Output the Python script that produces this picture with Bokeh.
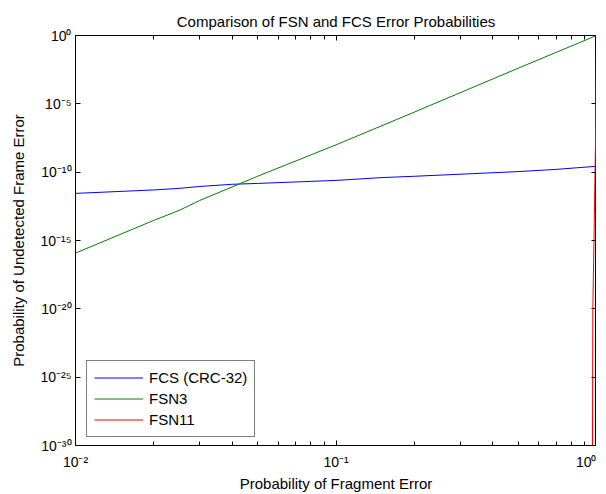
from bokeh.plotting import figure
from bokeh.models import Range1d, FixedTicker, LogAxis, CustomJSTickFormatter, Legend, LegendItem
from bokeh.embed import file_html
from bokeh.resources import INLINE

title_text = "Comparison of FSN and FCS Error Probabilities"
x_label = "Probability of Fragment Error"
y_label = "Probability of Undetected Frame Error"

x_major_ticks = [0.01, 0.1, 1.0]
x_minor_ticks = [0.02, 0.03, 0.04, 0.05, 0.06, 0.07, 0.08, 0.09,
                 0.2, 0.3, 0.4, 0.5, 0.6, 0.7, 0.8, 0.9]
y_major_ticks = [1e-30, 1e-25, 1e-20, 1e-15, 1e-10, 1e-5, 1e0]

series_names = ["FCS (CRC-32)", "FSN3", "FSN11"]

fcs_x = [0.01, 0.02, 0.025, 0.03, 0.04, 0.05, 0.1, 0.15, 0.2, 0.5, 0.7, 1.0]
fcs_y = [2.8e-12, 5.0e-12, 6.5e-12, 9.0e-12, 1.3e-11, 1.5e-11, 2.5e-11,
         4.0e-11, 5.0e-11, 1.1e-10, 1.6e-10, 2.7e-10]

fsn3_x = [0.01, 0.02, 0.025, 0.03, 0.05, 0.1, 0.15, 0.2, 0.5, 1.0]
fsn3_y = [1.2e-16, 3.0e-14, 1.6e-13, 8.5e-13, 5.0e-11, 1.0e-8, 2.5e-7,
          2.5e-6, 4.0e-3, 1.0]

fsn11_x = [0.96, 0.965, 0.968, 0.98, 0.991, 1.0]
fsn11_y = [1e-60, 1e-30, 1e-20, 1e-14, 1e-8, 1.0]

FONT = "Liberation Sans"

sup_code = """
const sup = {"0":"\\u2070","1":"\\u00b9","2":"\\u00b2","3":"\\u00b3","4":"\\u2074",
             "5":"\\u2075","6":"\\u2076","7":"\\u2077","8":"\\u2078","9":"\\u2079","-":"\\u207b"};
const e = Math.round(Math.log10(tick));
return "10" + String(e).split("").map(c => sup[c]).join("");
"""

p = figure(frame_width=521, frame_height=410,
           x_axis_type="log", y_axis_type="log",
           x_range=Range1d(0.01, 1.0), y_range=Range1d(1e-30, 1.0),
           output_backend="svg", toolbar_location=None,
           title=title_text,
           min_border_left=75, min_border_right=0,
           min_border_top=35, min_border_bottom=40)

p.title.align = "center"
p.title.text_font = FONT
p.title.text_font_size = "15px"
p.title.text_font_style = "normal"
p.title.text_color = "black"
p.title.standoff = 12

p.xgrid.visible = False
p.ygrid.visible = False
p.outline_line_color = "black"
p.outline_line_alpha = 1.0
p.background_fill_color = "white"
p.border_fill_color = "white"

xt = FixedTicker(ticks=x_major_ticks, minor_ticks=x_minor_ticks)
yt = FixedTicker(ticks=y_major_ticks, minor_ticks=[])

def style_axis(ax, ticker, labels=True):
    ax.ticker = ticker
    ax.axis_line_color = "black"
    ax.major_tick_line_color = "black"
    ax.minor_tick_line_color = "black"
    ax.major_tick_in = 5
    ax.major_tick_out = 0
    ax.minor_tick_in = 4
    ax.minor_tick_out = 0
    if labels:
        ax.formatter = CustomJSTickFormatter(code=sup_code)
        ax.major_label_text_font = FONT
        ax.major_label_text_font_size = "14px"
        ax.major_label_text_color = "black"
        ax.axis_label_text_font = FONT
        ax.axis_label_text_font_size = "15px"
        ax.axis_label_text_font_style = "normal"
        ax.axis_label_text_color = "black"
    else:
        ax.formatter = CustomJSTickFormatter(code="return '';")
        ax.major_label_text_font_size = "0px"
        ax.major_label_standoff = 0

style_axis(p.xaxis[0], xt)
style_axis(p.yaxis[0], yt)
p.xaxis[0].axis_label = x_label
p.yaxis[0].axis_label = y_label
p.xaxis[0].major_label_standoff = 8
p.xaxis[0].axis_label_standoff = 2
p.yaxis[0].major_label_standoff = 4
p.yaxis[0].axis_label_standoff = 10

top_ax = LogAxis()
style_axis(top_ax, FixedTicker(ticks=x_major_ticks, minor_ticks=x_minor_ticks), labels=False)
p.add_layout(top_ax, "above")
right_ax = LogAxis()
style_axis(right_ax, FixedTicker(ticks=y_major_ticks, minor_ticks=[]), labels=False)
p.add_layout(right_ax, "right")

r1 = p.line(fcs_x, fcs_y, line_color="#0000ff", line_width=1)
r2 = p.line(fsn3_x, fsn3_y, line_color="#008000", line_width=1)
r3 = p.line(fsn11_x, fsn11_y, line_color="#ff0000", line_width=1)

legend = Legend(items=[LegendItem(label=series_names[0], renderers=[r1]),
                       LegendItem(label=series_names[1], renderers=[r2]),
                       LegendItem(label=series_names[2], renderers=[r3])],
                location=(11, 8))
legend.label_text_font = FONT
legend.label_text_font_size = "15px"
legend.label_text_color = "black"
legend.border_line_color = "black"
legend.border_line_width = 1
legend.background_fill_color = "white"
legend.background_fill_alpha = 1.0
legend.glyph_width = 49
legend.glyph_height = 19
legend.label_height = 19
legend.label_standoff = 6
legend.spacing = 2
legend.padding = 7
legend.margin = 0
p.add_layout(legend, "center")

open("out.html", "w").write(file_html(p, INLINE))
